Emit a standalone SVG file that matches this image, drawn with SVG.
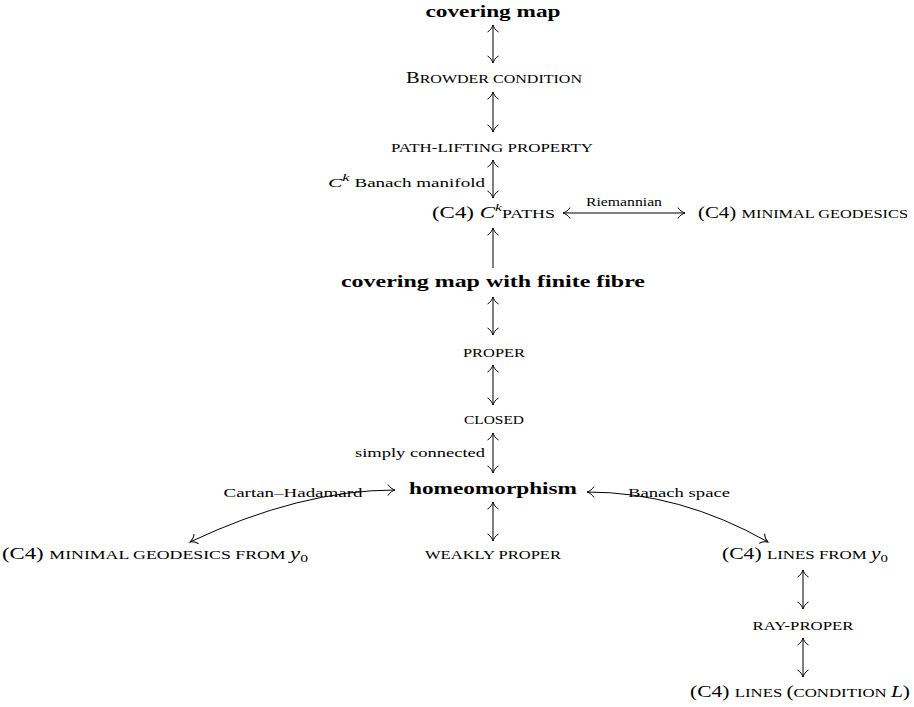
<svg xmlns="http://www.w3.org/2000/svg" width="914" height="707" viewBox="0 0 914 707">
<defs>
<marker id="ah" markerUnits="userSpaceOnUse" markerWidth="20" markerHeight="20" viewBox="-10 -10 20 20" refX="0" refY="0" orient="auto-start-reverse">
<path d="M-7,-5.5 C-5.5,-2.5 -2,-0.6 0,0 C-2,0.6 -5.5,2.5 -7,5.5" fill="none" stroke="#000" stroke-width="1"/>
</marker>
</defs>
<style>
text{font-family:"Liberation Serif","DejaVu Serif",serif;fill:#000}
.b{font-weight:bold;font-size:16.5px}
.r{font-size:16px}
.sc{font-size:12.5px}
.lab{font-size:11.5px}
.it{font-style:italic}
.c{stroke:#000;stroke-width:1;fill:none}
.d{marker-start:url(#ah);marker-end:url(#ah)}
.s{marker-end:url(#ah)}
</style>
<g id="connectors">
<line class="c d" x1="493" y1="25" x2="493" y2="63"/>
<line class="c d" x1="493" y1="92" x2="493" y2="132"/>
<line class="c d" x1="493" y1="160" x2="493" y2="198"/>
<line class="c d" x1="563" y1="213" x2="685" y2="213"/>
<line class="c s" x1="493" y1="268" x2="493" y2="228"/>
<line class="c d" x1="493" y1="297" x2="493" y2="335"/>
<line class="c d" x1="493" y1="365" x2="493" y2="405"/>
<line class="c d" x1="493" y1="433" x2="493" y2="473"/>
<line class="c d" x1="493" y1="502" x2="493" y2="541"/>
<path class="c d" d="M395,490 Q300,490 190,542"/>
<path class="c d" d="M587,492 Q680,492 768,542"/>
<line class="c d" x1="803" y1="570" x2="803" y2="609"/>
<line class="c d" x1="803" y1="638" x2="803" y2="677"/>
<text class="lab" x="485" y="187" text-anchor="end" textLength="157" lengthAdjust="spacingAndGlyphs"><tspan class="it" font-size="13">C</tspan><tspan class="it" font-size="10" dy="-6">k</tspan><tspan dy="6"> Banach manifold</tspan></text>
<text class="lab" x="624" y="206" text-anchor="middle" textLength="76" lengthAdjust="spacingAndGlyphs">Riemannian</text>
<text class="lab" x="485" y="457" text-anchor="end" textLength="130" lengthAdjust="spacingAndGlyphs">simply connected</text>
<text class="lab" x="293" y="497" text-anchor="middle" textLength="139" lengthAdjust="spacingAndGlyphs">Cartan–Hadamard</text>
<text class="lab" x="679" y="497" text-anchor="middle" textLength="102" lengthAdjust="spacingAndGlyphs">Banach space</text>
</g>
<g id="covering-map"><text class="b" x="493" y="17" text-anchor="middle" textLength="135" lengthAdjust="spacingAndGlyphs">covering map</text></g>
<g id="browder"><text x="406" y="83" textLength="176" lengthAdjust="spacingAndGlyphs"><tspan class="r">B</tspan><tspan class="sc">ROWDER CONDITION</tspan></text></g>
<g id="path-lifting"><text class="sc" x="391" y="152" textLength="202" lengthAdjust="spacingAndGlyphs">PATH-LIFTING PROPERTY</text></g>
<g id="ck-paths"><text x="432" y="218" textLength="123" lengthAdjust="spacingAndGlyphs"><tspan class="r">(C4) </tspan><tspan class="r it">C</tspan><tspan class="it" font-size="11" dy="-7">k</tspan><tspan class="sc" dy="7">PATHS</tspan></text></g>
<g id="minimal-geodesics"><text x="698" y="218" textLength="210" lengthAdjust="spacingAndGlyphs"><tspan class="r">(C4) </tspan><tspan class="sc">MINIMAL GEODESICS</tspan></text></g>
<g id="covering-finite"><text class="b" x="493" y="287" text-anchor="middle" textLength="304" lengthAdjust="spacingAndGlyphs">covering map with finite fibre</text></g>
<g id="proper"><text class="sc" x="494" y="357" text-anchor="middle" textLength="62" lengthAdjust="spacingAndGlyphs">PROPER</text></g>
<g id="closed"><text class="sc" x="494" y="424" text-anchor="middle" textLength="60" lengthAdjust="spacingAndGlyphs">CLOSED</text></g>
<g id="homeomorphism"><text class="b" x="493" y="494" text-anchor="middle" textLength="168" lengthAdjust="spacingAndGlyphs">homeomorphism</text></g>
<g id="weakly-proper"><text class="sc" x="493" y="559" text-anchor="middle" textLength="136" lengthAdjust="spacingAndGlyphs">WEAKLY PROPER</text></g>
<g id="min-geo-from"><text x="2" y="559" textLength="306" lengthAdjust="spacingAndGlyphs"><tspan class="r">(C4) </tspan><tspan class="sc">MINIMAL GEODESICS FROM </tspan><tspan class="r it">y</tspan><tspan font-size="11" dy="3">0</tspan></text></g>
<g id="lines-from"><text x="722" y="559" textLength="166" lengthAdjust="spacingAndGlyphs"><tspan class="r">(C4) </tspan><tspan class="sc">LINES FROM </tspan><tspan class="r it">y</tspan><tspan font-size="11" dy="3">0</tspan></text></g>
<g id="ray-proper"><text class="sc" x="803" y="630" text-anchor="middle" textLength="101" lengthAdjust="spacingAndGlyphs">RAY-PROPER</text></g>
<g id="lines-L"><text x="690" y="697" textLength="220" lengthAdjust="spacingAndGlyphs"><tspan class="r">(C4) </tspan><tspan class="sc">LINES </tspan><tspan class="r">(</tspan><tspan class="sc">CONDITION </tspan><tspan class="r it">L</tspan><tspan class="r">)</tspan></text></g>
</svg>
